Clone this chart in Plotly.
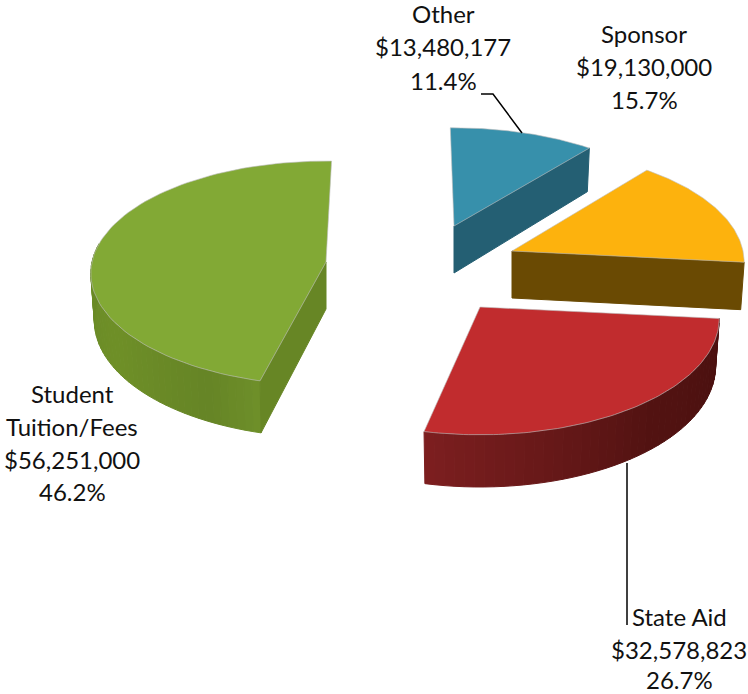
import numpy as np
import plotly.graph_objects as go

# ---- data ----
categories = ["Other", "Sponsor", "State Aid", "Student Tuition/Fees"]
amounts = [13480177, 19130000, 32578823, 56251000]
percent_labels = ["11.4%", "15.7%", "26.7%", "46.2%"]

# ---- style and projection ----
top_colors = ["#3790ab", "#fdb20d", "#c12c2e", "#82a935"]
face_colors = ["#245f73", "#6a4a03", None, "#678625"]
face_at_end = [True, True, False, False]
rim_stops = [None, None,
             [(0, "#4a100f"), (0.45, "#531312"), (1, "#7d1f20")],
             [(0, "#6f902a"), (0.15, "#668526"), (0.5, "#6f9028"), (1, "#698926")]]
rim_span_deg = [0, 0, None, 85]
centers = [(454, 226), (512, 251), (480, 307), (326, 262)]
radii_x = [232, 231, 238, 234]
radii_y = [108, 112, 115, 111]
rotations = [0.0, 0.0, 0.0, -2.5]
K, DEPTH, START = 0.10, 47, 91.0
FONT = dict(family="Lato", size=24, color="#111111")


def project(cx, cy, t, rx, ry):
    u, v = np.cos(t), -np.sin(t)
    s = 1 / (1 - K * v)
    return cx + rx * u * s, cy + ry * v * s, s


def down(cx, x, y, s):
    return cx + (x - cx) * 0.985, y + DEPTH * s


def rgb(c):
    return np.array([int(c[i:i + 2], 16) for i in (1, 3, 5)], float)


def mix(stops, f):
    for (a, ca), (b, cb) in zip(stops, stops[1:]):
        if f <= b:
            w = (f - a) / (b - a)
            m = rgb(ca) * (1 - w) + rgb(cb) * w
            return "rgb(%d,%d,%d)" % tuple(m)
    return stops[-1][1]


def poly(fig, xs, ys, fill, line=None, width=1):
    fig.add_trace(go.Scatter(x=list(xs), y=list(ys), mode="lines", fill="toself",
                             fillcolor=fill, line=dict(color=line or fill, width=width),
                             hoverinfo="skip", showlegend=False))


fig = go.Figure()
total = sum(amounts)
edges = [np.radians(START - 360 * c / total) for c in np.concatenate([[0], np.cumsum(amounts)])]

for i in [3, 0, 1, 2]:
    cx, cy = centers[i]
    rx, ry = radii_x[i], radii_y[i]
    rot = np.radians(rotations[i])
    t0, t1 = edges[i] + rot, edges[i + 1] + rot
    # outer rim strips, right to left
    if rim_stops[i]:
        lo = t1 if rim_span_deg[i] is None else t0 - np.radians(rim_span_deg[i])
        n = 44
        grid = np.linspace(t0, lo, n + 1)
        for j in range(n):
            a, b = grid[j], grid[j + 1]
            x1, y1, s1 = project(cx, cy, a, rx, ry)
            x2, y2, s2 = project(cx, cy, b, rx, ry)
            x3, y3 = down(cx, x2, y2, s2)
            x4, y4 = down(cx, x1, y1, s1)
            poly(fig, [x1, x2, x3, x4, x1], [y1, y2, y3, y4, y1], mix(rim_stops[i], (j + 0.5) / n))
    # radial face
    if face_colors[i]:
        xe, ye, se = project(cx, cy, t1 if face_at_end[i] else t0, rx, ry)
        xb, yb = down(cx, xe, ye, se)
        poly(fig, [cx, xe, xb, cx, cx], [cy, ye, yb, cy + DEPTH, cy], face_colors[i])
    # top face
    ts = np.linspace(t0, t1, 90)
    xa, ya, _ = project(cx, cy, ts, rx, ry)
    poly(fig, np.r_[cx, xa, cx], np.r_[cy, ya, cy], top_colors[i], "rgba(190,190,190,0.6)", 1)

# leader lines
for lx, ly in [((481, 493, 522), (94, 94, 133)), ((627, 627), (463, 625))]:
    fig.add_trace(go.Scatter(x=list(lx), y=list(ly), mode="lines", hoverinfo="skip",
                             showlegend=False, line=dict(color="#000000", width=1.5)))


def money(v):
    return "${:,}".format(v)


label_lines = [
    (443, [13, 46, 80], [categories[0], money(amounts[0]), percent_labels[0]]),
    (644, [33, 66, 99], [categories[1], money(amounts[1]), percent_labels[1]]),
    (679, [616, 649, 679], [categories[2], money(amounts[2]), percent_labels[2]]),
    (72, [393, 426, 459, 491], ["Student", "Tuition/Fees", money(amounts[3]), percent_labels[3]]),
]
for lx, ys, texts in label_lines:
    for ly, tx in zip(ys, texts):
        fig.add_annotation(x=lx, y=ly, text=tx, showarrow=False, font=FONT,
                           xanchor="center", yanchor="middle")

fig.update_layout(width=748, height=694, margin=dict(l=0, r=0, t=0, b=0),
                  paper_bgcolor="#ffffff", plot_bgcolor="#ffffff", showlegend=False,
                  xaxis=dict(range=[0, 748], visible=False, fixedrange=True),
                  yaxis=dict(range=[694, 0], visible=False, fixedrange=True))
fig.write_html("out.html", config={"displayModeBar": False},
               post_script="document.body.style.margin='0';document.documentElement.style.overflow='hidden';")
